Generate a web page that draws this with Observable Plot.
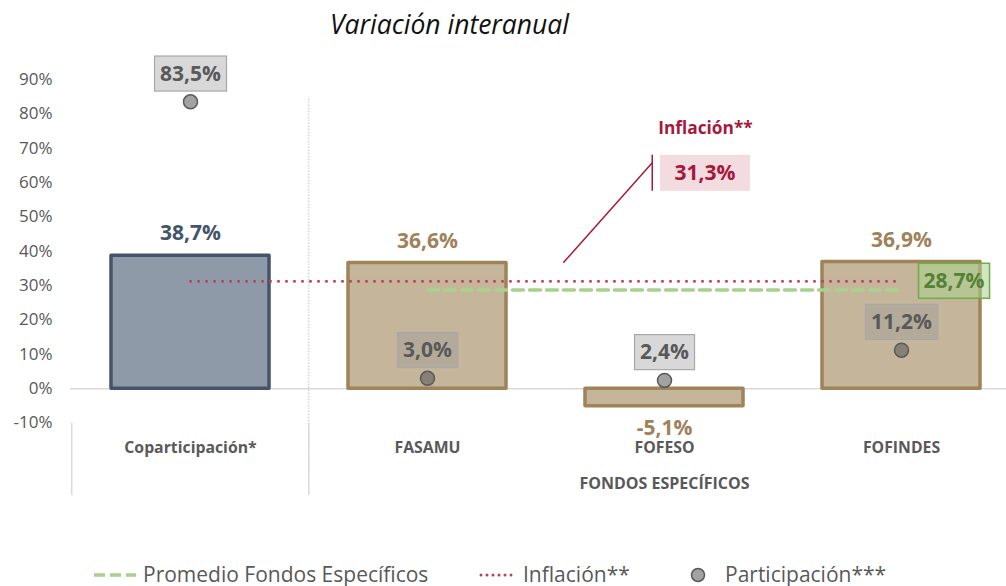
<!DOCTYPE html>
<html>
<head>
<meta charset="utf-8">
<script src="https://cdn.jsdelivr.net/npm/d3@7"></script>
<script src="https://cdn.jsdelivr.net/npm/@observablehq/plot@0.6"></script>
<style>
  html, body { margin: 0; padding: 0; background: #fff; }
  #wrap { width: 1006px; height: 586px; position: relative; font-family: "Open Sans", sans-serif; }
  #title { height: 50px; box-sizing: border-box; padding-top: 7px; padding-left: 330px; font-size: 26.5px; font-style: italic; line-height: 34px; color: #111; }
  #legend { position: relative; height: 46px; font-size: 21px; color: #595959; }
  #legend .item { position: absolute; top: 23px; line-height: 22px; white-space: nowrap; }
  #legend svg { position: absolute; }
</style>
</head>
<body>
<div id="wrap">
  <div id="title">Variación interanual</div>
  <div id="chart"></div>
  <div id="legend"></div>
</div>
<script>
// ---------------- data ----------------
const categories = ["Coparticipación*", "FASAMU", "FOFESO", "FOFINDES"];
const variacion = [38.7, 36.6, -5.1, 36.9];
const participacion = [83.5, 3.0, 2.4, 11.2];
const inflacion = 31.3;
const promedioEspecificos = 28.7;
const specificCategories = ["FASAMU", "FOFESO", "FOFINDES"];
const groupLabel = "FONDOS ESPECÍFICOS";
const yTicks = [-10, 0, 10, 20, 30, 40, 50, 60, 70, 80, 90];
const legendLabels = ["Promedio Fondos Específicos", "Inflación**", "Participación***"];
const inflationLabel = "Inflación**";

// ---------------- styles ----------------
const C = {
  copFill: "#8e9aa8", copStroke: "#44546a",
  tanFill: "#c4b59b", tanStroke: "#9e8458", tanText: "#9e825a",
  infl: "#be3f5b", inflText: "#a6193c", inflBox: "#f2dce0",
  green: "#a9d18e", greenStroke: "#70ad47", greenText: "#548235",
  axis: "#595959", zero: "#d9d9d9"
};
const fmt = v => v.toFixed(1).replace(".", ",") + "%";

const rows = categories.map((c, i) => ({cat: categories[i], var: variacion[i], part: participacion[i]}));
const inflLine = [categories[0], categories[categories.length - 1]].map(c => ({cat: c, v: inflacion}));
const promLine = [specificCategories[0], specificCategories[specificCategories.length - 1]].map(c => ({cat: c, v: promedioEspecificos}));

const ns = "http://www.w3.org/2000/svg";
// leader line of the inflation annotation (positioned relative to FOFESO / inflation value)
const leader = (index, scales) => {
  const x = scales.x, y = scales.y;
  const off = typeof x.bandwidth === "function" ? x.bandwidth() / 2 : 0;
  const cx = x("FOFESO") + off;
  const cy = y(inflacion);
  const g = document.createElementNS(ns, "g");
  const mk = (x1, y1, x2, y2) => {
    const l = document.createElementNS(ns, "line");
    l.setAttribute("x1", cx + x1); l.setAttribute("y1", cy + y1);
    l.setAttribute("x2", cx + x2); l.setAttribute("y2", cy + y2);
    l.setAttribute("stroke", C.inflText); l.setAttribute("stroke-width", 1.5);
    g.appendChild(l);
  };
  mk(-100.75, -17.8, -11.75, -117.8);
  mk(-11.75, -125.8, -11.75, -89.8);
  return g;
};

const chart = Plot.plot({
  width: 1006,
  height: 490,
  marginLeft: 70,
  marginRight: 0,
  marginTop: 29,
  marginBottom: 117.5,
  style: {fontFamily: "Open Sans, sans-serif", background: "transparent", overflow: "visible"},
  x: {domain: categories, range: [70, 1020], paddingInner: 1/3, paddingOuter: 1/6},
  y: {domain: [-10, 90]},
  marks: [
    Plot.ruleY([0], {stroke: C.zero, strokeWidth: 1.5}),
    // group separators
    Plot.ruleX(["FASAMU"], {dx: -118.75, y1: 84.3, y2: -24.7, stroke: "#bfbfbf", strokeWidth: 1, strokeDasharray: "1.5 1.5"}),
    Plot.ruleX(["Coparticipación*", "FASAMU"], {dx: -118.75, y1: -10.1, y2: -31.1, stroke: "#d9d9d9", strokeWidth: 1.5}),
    Plot.barY(rows, {x: "cat", y: "var",
      fill: d => d.cat === categories[0] ? C.copFill : C.tanFill,
      stroke: d => d.cat === categories[0] ? C.copStroke : C.tanStroke,
      strokeWidth: 3.5, strokeLinejoin: "round"}),
    Plot.line(inflLine, {x: "cat", y: "v", stroke: C.infl, strokeWidth: 3, strokeDasharray: "0 8", strokeLinecap: "round"}),
    Plot.line(promLine, {x: "cat", y: "v", stroke: C.green, strokeWidth: 3.5, strokeDasharray: "11 6"}),
    // bar labels
    Plot.text(rows.filter(d => d.var >= 0), {x: "cat", y: "var", text: d => fmt(d.var), dy: -22,
      fill: d => d.cat === categories[0] ? C.copStroke : C.tanText, fontWeight: "bold", fontSize: 21}),
    Plot.text(rows.filter(d => d.var < 0), {x: "cat", y: "var", text: d => fmt(d.var), dy: 22,
      fill: C.tanText, fontWeight: "bold", fontSize: 21}),
    // participation dots + labels
    Plot.dot(rows, {x: "cat", y: "part", r: 7, fill: "#555555", fillOpacity: 0.55, stroke: "#595959", strokeWidth: 1.5}),
    Plot.text(rows, {x: "cat", y: "part", text: d => fmt(d.part), dy: -28, fill: "#595959", fontWeight: "bold", fontSize: 21}),
    // promedio label
    Plot.text([promLine[1]], {x: "cat", y: "v", text: d => fmt(d.v), dx: 52.5, dy: -9, fill: C.greenText, fontWeight: "bold", fontSize: 21}),
    // inflation annotation
    leader,
    Plot.text([{cat: "FOFESO", v: inflacion}], {x: "cat", y: "v", text: d => fmt(d.v), dx: 40.5, dy: -108, fill: C.inflText, fontWeight: "bold", fontSize: 21}),
    Plot.text([{cat: "FOFESO", v: inflacion}], {x: "cat", y: "v", text: () => inflationLabel, dx: 41, dy: -153, fill: C.inflText, fontWeight: "bold", fontSize: 17.3}),
    // axes
    Plot.axisY(yTicks, {tickSize: 0, tickPadding: 18, tickFormat: d => d + "%", fontSize: 17, color: C.axis, label: null}),
    Plot.axisX({tickSize: 0, tickPadding: 19, fontSize: 15.8, fontWeight: "bold", color: C.axis, label: null}),
    Plot.text([{cat: "FOFESO"}], {x: "cat", y: () => -10, text: () => groupLabel, dy: 60.5, fill: C.axis, fontWeight: "bold", fontSize: 16})
  ]
});
document.getElementById("chart").appendChild(chart);

// boxes behind selected labels, sized from the rendered text
const boxStyles = {};
participacion.forEach(v => boxStyles[fmt(v)] = {padX: 5.5, h: 35, fill: "#999999", fillOpacity: 0.38, stroke: "#a8a8a8", strokeWidth: 1.2});
boxStyles[fmt(promedioEspecificos)] = {padX: 5, h: 35, fill: C.green, fillOpacity: 0.55, stroke: C.greenStroke, strokeWidth: 1.5};
boxStyles[fmt(inflacion)] = {padX: 14.5, h: 36, fill: C.inflBox, fillOpacity: 1};
for (const t of Array.from(chart.querySelectorAll("text"))) {
  const o = boxStyles[t.textContent];
  if (!o) continue;
  const b = t.getBBox();
  const r = document.createElementNS(ns, "rect");
  r.setAttribute("x", b.x - o.padX);
  r.setAttribute("y", b.y + b.height / 2 - o.h / 2 + 1);
  r.setAttribute("width", b.width + 2 * o.padX);
  r.setAttribute("height", o.h);
  r.setAttribute("fill", o.fill);
  r.setAttribute("fill-opacity", o.fillOpacity);
  r.setAttribute("stroke", o.stroke || "none");
  r.setAttribute("stroke-width", o.strokeWidth || 0);
  const tr = t.getAttribute("transform");
  if (tr) r.setAttribute("transform", tr);
  t.parentNode.insertBefore(r, t);
}

// ---------------- legend ----------------
const legend = document.getElementById("legend");
function swatch(left, w, inner) {
  const s = document.createElementNS(ns, "svg");
  s.setAttribute("width", w); s.setAttribute("height", 16);
  s.style.left = left + "px"; s.style.top = "27px";
  s.innerHTML = inner;
  legend.appendChild(s);
}
function item(left, text) {
  const d = document.createElement("div");
  d.className = "item"; d.style.left = left + "px"; d.textContent = text;
  legend.appendChild(d);
}
swatch(93, 44, `<line x1="1" y1="8" x2="43" y2="8" stroke="${C.green}" stroke-width="3.5" stroke-dasharray="11 5"/>`);
item(143, legendLabels[0]);
swatch(479, 38, `<line x1="2" y1="8" x2="37" y2="8" stroke="${C.infl}" stroke-width="3" stroke-dasharray="0 6" stroke-linecap="round"/>`);
item(523, legendLabels[1]);
swatch(690, 16, `<circle cx="8" cy="8" r="6.5" fill="#555" fill-opacity="0.55" stroke="#595959" stroke-width="1.5"/>`);
item(725, legendLabels[2]);
</script>
</body>
</html>
